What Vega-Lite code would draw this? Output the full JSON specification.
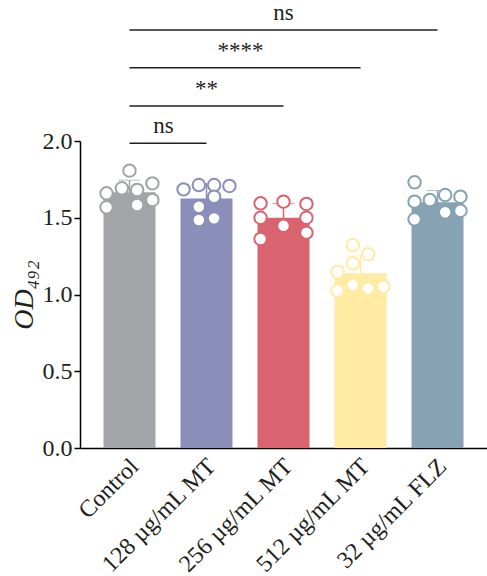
{
  "$schema": "https://vega.github.io/schema/vega-lite/v6.json",
  "autosize": {"type": "none"},
  "width": 407,
  "height": 307,
  "padding": {"left": 80, "top": 141, "right": 0, "bottom": 128},
  "background": "white",
  "config": {
    "view": {"stroke": null},
    "font": "Liberation Serif"
  },
  "resolve": {"scale": {"xOffset": "independent"}},
  "datasets": {
    "obs": [
      {"group": "Control", "col": "1", "od": 1.659},
      {"group": "Control", "col": "1", "od": 1.568},
      {"group": "Control", "col": "3", "od": 1.692},
      {"group": "Control", "col": "4", "od": 1.807},
      {"group": "Control", "col": "5", "od": 1.681},
      {"group": "Control", "col": "5", "od": 1.583},
      {"group": "Control", "col": "7", "od": 1.724},
      {"group": "Control", "col": "7", "od": 1.616},
      {"group": "128 µg/mL MT", "col": "1", "od": 1.685},
      {"group": "128 µg/mL MT", "col": "3", "od": 1.713},
      {"group": "128 µg/mL MT", "col": "3", "od": 1.572},
      {"group": "128 µg/mL MT", "col": "3", "od": 1.485},
      {"group": "128 µg/mL MT", "col": "5", "od": 1.713},
      {"group": "128 µg/mL MT", "col": "5", "od": 1.637},
      {"group": "128 µg/mL MT", "col": "5", "od": 1.496},
      {"group": "128 µg/mL MT", "col": "7", "od": 1.707},
      {"group": "256 µg/mL MT", "col": "1", "od": 1.594},
      {"group": "256 µg/mL MT", "col": "1", "od": 1.5},
      {"group": "256 µg/mL MT", "col": "1", "od": 1.362},
      {"group": "256 µg/mL MT", "col": "4", "od": 1.605},
      {"group": "256 µg/mL MT", "col": "4", "od": 1.448},
      {"group": "256 µg/mL MT", "col": "7", "od": 1.59},
      {"group": "256 µg/mL MT", "col": "7", "od": 1.5},
      {"group": "256 µg/mL MT", "col": "7", "od": 1.403},
      {"group": "512 µg/mL MT", "col": "1", "od": 1.148},
      {"group": "512 µg/mL MT", "col": "1", "od": 1.025},
      {"group": "512 µg/mL MT", "col": "3", "od": 1.322},
      {"group": "512 µg/mL MT", "col": "3", "od": 1.203},
      {"group": "512 µg/mL MT", "col": "3", "od": 1.062},
      {"group": "512 µg/mL MT", "col": "5", "od": 1.262},
      {"group": "512 µg/mL MT", "col": "5", "od": 1.04},
      {"group": "512 µg/mL MT", "col": "7", "od": 1.051},
      {"group": "32 µg/mL FLZ", "col": "1", "od": 1.731},
      {"group": "32 µg/mL FLZ", "col": "1", "od": 1.605},
      {"group": "32 µg/mL FLZ", "col": "1", "od": 1.49},
      {"group": "32 µg/mL FLZ", "col": "3", "od": 1.616},
      {"group": "32 µg/mL FLZ", "col": "5", "od": 1.648},
      {"group": "32 µg/mL FLZ", "col": "5", "od": 1.536},
      {"group": "32 µg/mL FLZ", "col": "7", "od": 1.637},
      {"group": "32 µg/mL FLZ", "col": "7", "od": 1.546}
    ],
    "sig": [
      {"from": "Control", "to": "128 µg/mL MT", "level": 1.985, "label": "ns", "anchor": "Control", "between": true},
      {"from": "Control", "to": "256 µg/mL MT", "level": 2.228, "label": "**", "anchor": "128 µg/mL MT", "between": false},
      {"from": "Control", "to": "512 µg/mL MT", "level": 2.478, "label": "****", "anchor": "128 µg/mL MT", "between": true},
      {"from": "Control", "to": "32 µg/mL FLZ", "level": 2.723, "label": "ns", "anchor": "256 µg/mL MT", "between": false}
    ]
  },
  "layer": [
    {
      "data": {"name": "obs"},
      "mark": {"type": "bar", "width": {"band": 1}},
      "encoding": {
        "x": {
          "field": "group", "type": "nominal",
          "scale": {"domain": ["Control", "128 µg/mL MT", "256 µg/mL MT", "512 µg/mL MT", "32 µg/mL FLZ"], "paddingInner": 0.325, "paddingOuter": 0.305},
          "axis": {
            "title": null,
            "domainColor": "#000000", "domainWidth": 1.5,
            "ticks": false,
            "labelAngle": -45, "labelAlign": "right", "labelBaseline": "top",
            "labelFont": "Liberation Serif", "labelFontSize": 24, "labelColor": "#231F20",
            "labelPadding": 6, "labelOffset": -3
          }
        },
        "y": {
          "aggregate": "mean", "field": "od", "type": "quantitative",
          "title": "OD₄₉₂",
          "scale": {"domain": [0, 2], "nice": false},
          "axis": {
            "titleFont": "Liberation Serif", "titleFontSize": 28, "titleFontStyle": "italic", "titleFontWeight": "normal", "titleColor": "#231F20",
            "titlePadding": 4,
            "values": [0, 0.5, 1, 1.5, 2], "format": ".1f",
            "grid": false,
            "domainColor": "#000000", "domainWidth": 1.5,
            "tickColor": "#000000", "tickWidth": 1.5, "tickSize": 6,
            "labelFont": "Liberation Serif", "labelFontSize": 24, "labelColor": "#231F20", "labelPadding": 2
          }
        },
        "color": {
          "field": "group", "type": "nominal", "legend": null,
          "scale": {"domain": ["Control", "128 µg/mL MT", "256 µg/mL MT", "512 µg/mL MT", "32 µg/mL FLZ"], "range": ["#A1A5A7", "#8A8FBA", "#D9636F", "#FFEBA3", "#87A3B3"]}
        }
      }
    },
    {
      "data": {"name": "obs"},
      "mark": {"type": "errorbar", "extent": "stdev", "ticks": {"size": 22, "strokeWidth": 1.5}, "rule": {"strokeWidth": 1.5}},
      "encoding": {
        "x": {"field": "group", "type": "nominal"},
        "y": {"field": "od", "type": "quantitative", "title": "OD₄₉₂"},
        "color": {"field": "group", "type": "nominal", "legend": null}
      }
    },
    {
      "data": {"name": "obs"},
      "mark": {"type": "point", "shape": "circle", "filled": false, "fill": "white", "fillOpacity": 1, "size": 155, "strokeWidth": 2, "opacity": 1},
      "encoding": {
        "x": {"field": "group", "type": "nominal"},
        "xOffset": {"field": "col", "type": "nominal", "scale": {"domain": ["1", "2", "3", "4", "5", "6", "7"], "paddingInner": 0, "paddingOuter": 0.4}},
        "y": {"field": "od", "type": "quantitative", "title": "OD₄₉₂"},
        "stroke": {"field": "group", "type": "nominal", "legend": null,
          "scale": {"domain": ["Control", "128 µg/mL MT", "256 µg/mL MT", "512 µg/mL MT", "32 µg/mL FLZ"], "range": ["#A1A5A7", "#8A8FBA", "#D9636F", "#FFEBA3", "#87A3B3"]}}
      }
    },
    {
      "data": {"name": "sig"},
      "mark": {"type": "rule", "color": "#231F20", "strokeWidth": 1.5},
      "encoding": {
        "x": {"field": "from", "type": "nominal"},
        "x2": {"field": "to"},
        "y": {"field": "level", "type": "quantitative", "title": "OD₄₉₂"}
      }
    },
    {
      "data": {"name": "sig"},
      "transform": [{"filter": "datum.between"}],
      "mark": {"type": "text", "font": "Liberation Serif", "fontSize": 23, "color": "#231F20", "baseline": "alphabetic", "dy": -10, "dx": 34},
      "encoding": {
        "x": {"field": "anchor", "type": "nominal"},
        "y": {"field": "level", "type": "quantitative", "title": "OD₄₉₂"},
        "text": {"field": "label"}
      }
    },
    {
      "data": {"name": "sig"},
      "transform": [{"filter": "!datum.between"}],
      "mark": {"type": "text", "font": "Liberation Serif", "fontSize": 23, "color": "#231F20", "baseline": "alphabetic", "dy": -10},
      "encoding": {
        "x": {"field": "anchor", "type": "nominal"},
        "y": {"field": "level", "type": "quantitative", "title": "OD₄₉₂"},
        "text": {"field": "label"}
      }
    }
  ]
}
